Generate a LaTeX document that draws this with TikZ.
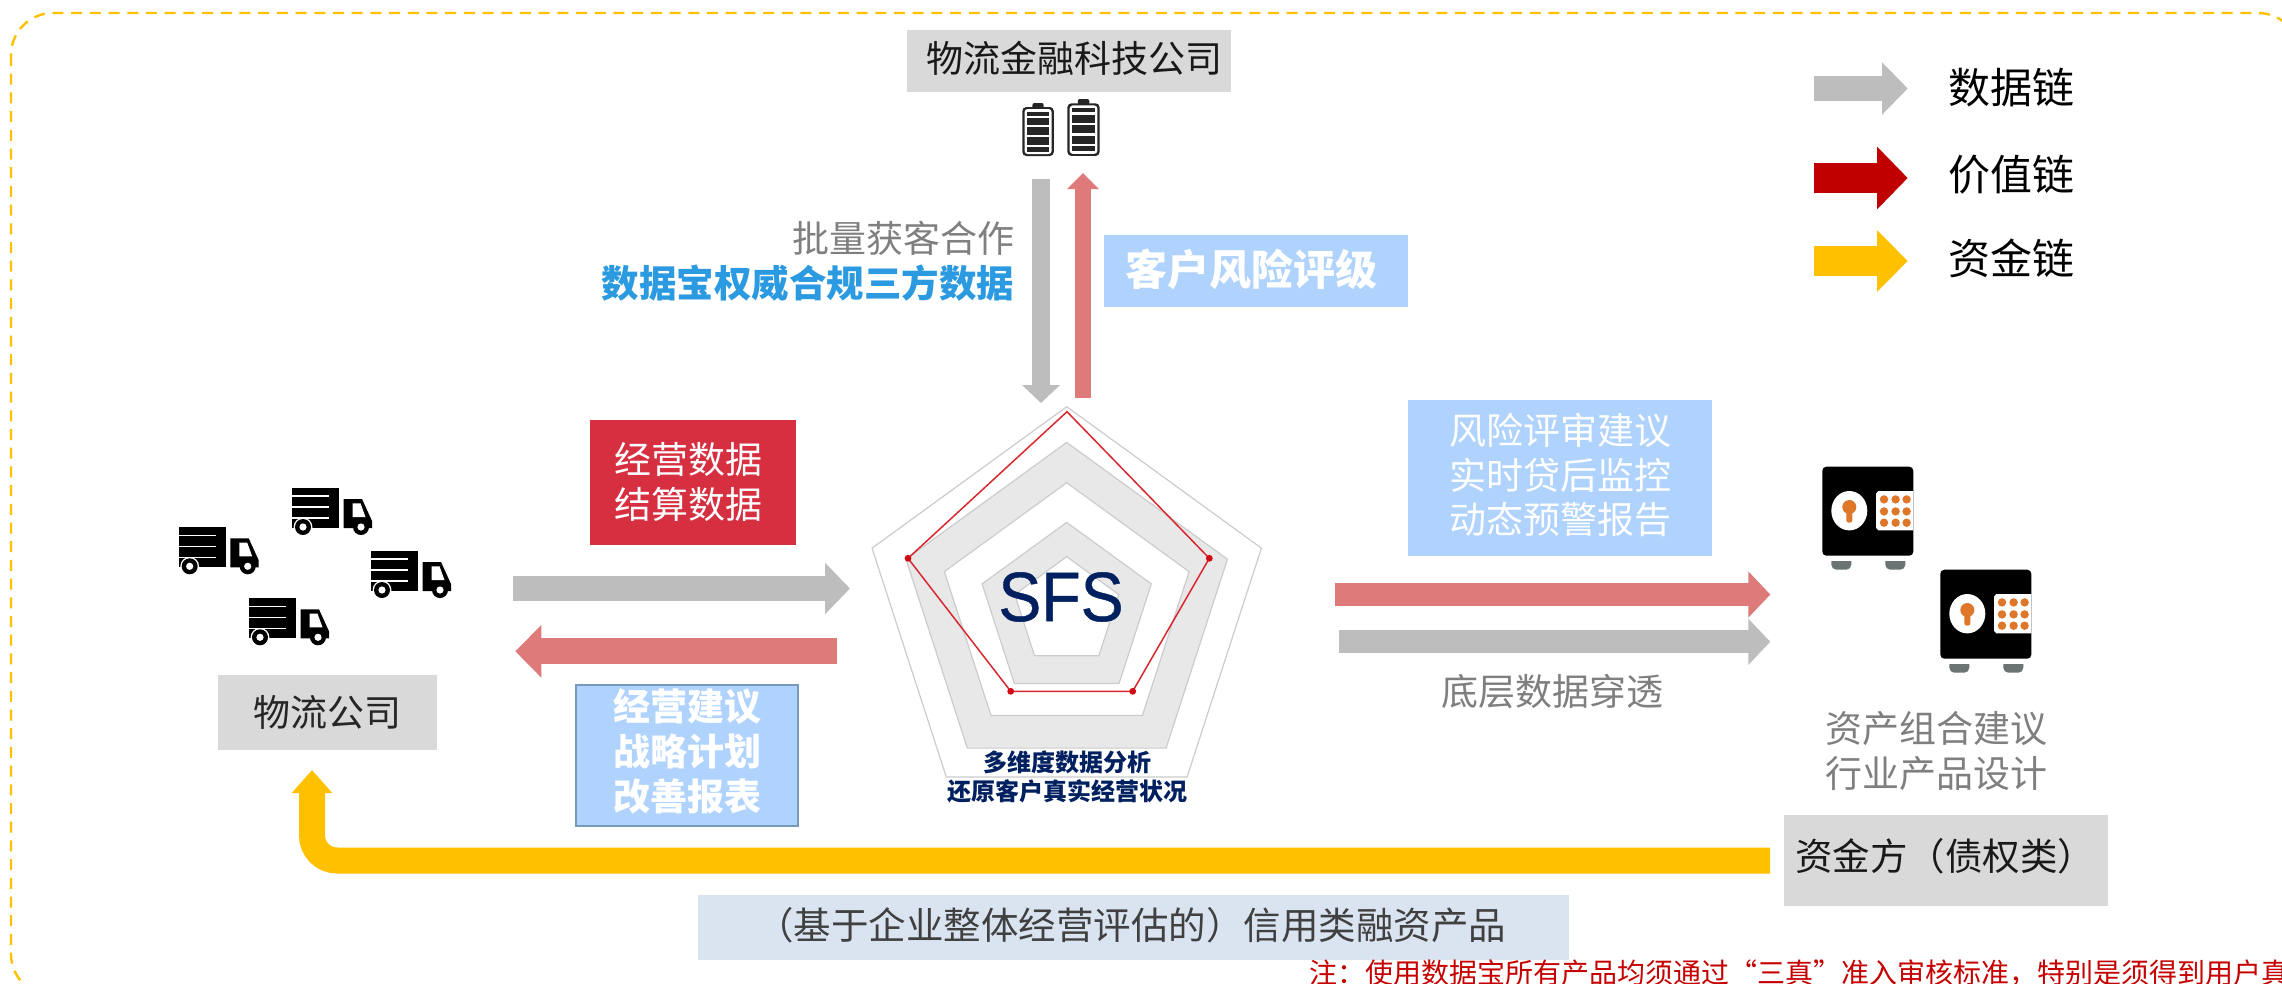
\documentclass[tikz,border=0pt]{standalone}
\usepackage{fontspec}
\usepackage{graphicx}
\setmainfont{Noto Sans CJK SC}
\newfontfamily\latinsf[FakeBold=0.6]{Liberation Sans}
\usetikzlibrary{arrows.meta}
\definecolor{cYellow}{HTML}{FFC000}
\definecolor{cGrey}{HTML}{BDBDBD}
\definecolor{cRose}{HTML}{DF7A7A}
\definecolor{cDeep}{HTML}{C00000}
\definecolor{cBlue}{HTML}{AFD3FD}
\definecolor{cBoxGrey}{HTML}{D9D9D9}
\definecolor{cRedBox}{HTML}{D63040}
\definecolor{cPale}{HTML}{DAE4F1}
\definecolor{cNavy}{HTML}{002060}
\definecolor{cOrange}{HTML}{DE7729}
\definecolor{cSky}{HTML}{2B9AE0}
\definecolor{cTxt}{HTML}{7F7F7F}
\definecolor{cRadar}{HTML}{D8282F}
\definecolor{cDot}{HTML}{D00A14}
\definecolor{cFoot}{HTML}{6B7373}
\definecolor{cEdge}{HTML}{7799BB}
\newcommand\fpx[2]{\fontsize{#1}{#2}\selectfont}
\tikzset{
  box/.style={inner sep=0pt,outer sep=0pt,draw=none,align=center},
  txt/.style={inner sep=0pt,outer sep=0pt,align=center},
  flow/.style n args={4}{draw=#1,line width=#2,-{Triangle[length=#3,width=#4]}},
  pentagrid/.style={draw=black!20,line width=1.2pt},
  truck/.pic={
    \fill[black] (0,0) rectangle (47,40);
    \draw[white,line width=1.6pt] (0,8)--(37,8) (0,19)--(37,19) (0,30)--(37,30);
    \fill[white] (11,39) circle (9.4);
    \fill[black] (11,39) circle (8);
    \fill[white] (11,39) circle (3.6);
    \fill[black] (51.7,11)--(70,11)--(80,33)--(80,40)--(51.7,40)--cycle;
    \fill[black] (69,39) circle (8);
    \fill[white] (69,39) circle (3.6);
    \fill[white] (60.7,15.3)--(68.5,15.3)--(73.5,29)--(60.7,29)--cycle;
  },
  safe/.pic={
    \fill[black,rounded corners=4] (0,0) rectangle (91,89);
    \fill[white] (27,44) ellipse [x radius=18,y radius=19.7];
    \fill[cOrange] (27,40.3) circle (7);
    \fill[cOrange,rounded corners=2.5] (24,40) rectangle (30,56);
    \fill[white] (91,24.3)--(56,24.3)--(53.7,27)--(53.7,61)--(56,63.7)--(91,63.7)--cycle;
    \foreach \dx in {61.7,73.3,84.3} \foreach \dy in {32.7,44.7,56}
      \fill[cOrange] (\dx,\dy) circle (4.2);
    \fill[cFoot] (9,94.3)--(29,94.3) [rounded corners=5]--(29,103)--(9,103) [sharp corners]--cycle;
    \fill[cFoot] (63,94.3)--(83,94.3) [rounded corners=5]--(83,103)--(63,103) [sharp corners]--cycle;
  },
  battery/.pic={
    \fill[black!85,rounded corners=2] (9,0) rectangle (19,6);
    \fill[black!85,rounded corners=4] (0,4) rectangle (28,53);
    \fill[white,rounded corners=3] (2,6) rectangle (26,51);
    \fill[black!85] (4,8.5) rectangle (24,12.5);
    \fill[black!85] (4,14.5) rectangle (24,22);
    \fill[black!85] (4,24) rectangle (24,32);
    \fill[black!85] (4,34) rectangle (24,41.5);
    \fill[black!85] (4,43.5) rectangle (24,48.5);
  },
}
\newcommand\pentagon[2]{\filldraw[pentagrid,fill=#1,shift={(1066.7,611.4)},scale=#2]
  (0,-1)--(.951,-.309)--(.588,.809)--(-.588,.809)--(-.951,-.309)--cycle;}
\begin{document}
\begin{tikzpicture}[x=1pt,y=-1pt]
\useasboundingbox (0,0) rectangle (2282,983);
\clip (0,0) rectangle (2282,983);
\fill[white] (0,0) rectangle (2282,983);
% frame
\draw[cYellow,line width=2.4pt,dash pattern=on 11pt off 7.7pt,rounded corners=42] (11,13) rectangle (2300,996);

% top company
\node[box,fill=cBoxGrey,minimum width=324,minimum height=62] (fintech) at (1069,61) {};
\node[txt,font=\fpx{37}{45},text=black!90] (fintechT) at (1074,58) {物流金融科技公司};
\pic[xscale=1.125] at (1022.3,103) {battery};
\pic[xscale=1.15,yscale=1.075] at (1067.4,99) {battery};

% vertical arrows
\coordinate (dnA) at (1041,179);
\coordinate (dnB) at (1041,403);
\coordinate (upA) at (1083,398);
\coordinate (upB) at (1083,173);
\draw[flow={cGrey}{18.8pt}{18pt}{37pt}] (dnA) -- (dnB);
\draw[flow={cRose}{16pt}{16pt}{31pt}] (upA) -- (upB);
\node[box,fill=cBlue,minimum width=304,minimum height=72] (rating) at (1256,271) {};
\node[txt,font=\fpx{42}{50}\bfseries,text=white] (ratingT) at (1251,269) {客户风险评级};
\node[txt,anchor=east,font=\fpx{37}{45},text=cTxt] (batch) at (1014,238) {批量获客合作};
\node[txt,anchor=east,font=\fpx{37.5}{45}\bfseries,text=cSky] (data3) at (1014,283) {数据宝权威合规三方数据};

% radar
\pentagon{white}{204.7}
\pentagon{black!9}{169}
\pentagon{white}{128.7}
\pentagon{black!9}{89}
\pentagon{white}{54.7}
\coordinate (r1) at (1067,411.7);
\coordinate (r2) at (1209.3,558.3);
\coordinate (r3) at (1132.7,691.3);
\coordinate (r4) at (1010.7,691.3);
\coordinate (r5) at (908,558.3);
\draw[cRadar,line width=1.5pt] (r1)--(r2)--(r3)--(r4)--(r5)--cycle;
\foreach \p in {r2,r3,r4,r5} \fill[cDot] (\p) circle (3.4);
\node[txt,font=\latinsf\fpx{70}{80},text=cNavy] (sfs) at (1061,597) {\scalebox{.92}[1]{SFS}};
\node[txt,font=\fpx{24}{29}\bfseries,text=cNavy] (multi) at (1067.5,777) {多维度数据分析\\还原客户真实经营状况};

% left side
\pic at (178.7,527.3) {truck};
\pic at (292,488) {truck};
\pic at (371,551) {truck};
\pic at (249,598.3) {truck};
\node[box,fill=cBoxGrey,minimum width=219,minimum height=75,font=\fpx{37}{45},text=black!85] (logco) at (327.5,712) {物流公司};
\node[box,fill=cRedBox,minimum width=206,minimum height=125] (opdata) at (693,482.5) {};
\node[txt,font=\fpx{37}{45},text=white] (opdataT) at (688.5,482) {经营数据\\结算数据};
\coordinate (lgA) at (512.7,588.5);
\coordinate (lgB) at (850,588.5);
\coordinate (lrA) at (837,651.3);
\coordinate (lrB) at (515.3,651.3);
\draw[flow={cGrey}{25pt}{25pt}{50pt}] (lgA) -- (lgB);
\draw[flow={cRose}{26pt}{26pt}{51pt}] (lrA) -- (lrB);
\node[box,fill=cBlue,draw=cEdge,line width=2pt,minimum width=222,minimum height=141] (advice) at (687,755) {};
\node[txt,font=\fpx{37}{45}\bfseries,text=white] (adviceT) at (687,751.5) {经营建议\\战略计划\\改善报表};

% right side
\node[box,fill=cBlue,minimum width=304,minimum height=156] (risk) at (1560,478) {};
\node[txt,font=\fpx{37}{44.7},text=white] (riskT) at (1560,475) {风险评审建议\\实时贷后监控\\动态预警报告};
\coordinate (rrA) at (1335,594.5);
\coordinate (rrB) at (1770.3,594.5);
\coordinate (rgA) at (1339,641.8);
\coordinate (rgB) at (1770.3,641.8);
\draw[flow={cRose}{22.5pt}{22pt}{45pt}] (rrA) -- (rrB);
\draw[flow={cGrey}{23pt}{22pt}{45pt}] (rgA) -- (rgB);
\node[txt,font=\fpx{37}{45},text=cTxt] (pierce) at (1552.5,691) {底层数据穿透};
\pic at (1822.3,466.7) {safe};
\pic at (1940.3,569.7) {safe};
\node[txt,font=\fpx{37}{45},text=cTxt] (port) at (1936,751) {资产组合建议\\行业产品设计};
\node[box,fill=cBoxGrey,minimum width=324,minimum height=91] (funder) at (1946,860.5) {};
\node[txt,font=\fpx{37.5}{45},text=black!90] (funderT) at (1945,856.7) {资金方（债权类）};

% funding arrow
\coordinate (yA) at (1770,860.5);
\coordinate (yC) at (312,860.5);
\coordinate (yB) at (312,770);
\draw[flow={cYellow}{26pt}{23pt}{39pt},rounded corners=25] (yA) -- (yC) -- (yB);
\node[box,fill=cPale,minimum width=871,minimum height=65] (credit) at (1133.5,927.5) {};
\node[txt,font=\fpx{37.5}{45},text=black!75] (creditT) at (1131,925) {（基于企业整体经营评估的）信用类融资产品};

% note
\node[txt,anchor=west,font=\fpx{28}{34},text=cDeep!90!red] (note) at (1309,973) {注：使用数据宝所有产品均须通过“三真”准入审核标准，特别是须得到用户真};

% legend
\coordinate (l1A) at (1814,88.5);
\coordinate (l1B) at (1907.7,88.5);
\coordinate (l2A) at (1814,178);
\coordinate (l2B) at (1907.7,178);
\coordinate (l3A) at (1814,261);
\coordinate (l3B) at (1907.7,261);
\draw[flow={cGrey}{25.7pt}{25.7pt}{51pt}] (l1A) -- (l1B);
\draw[flow={cDeep}{30pt}{30.7pt}{61pt}] (l2A) -- (l2B);
\draw[flow={cYellow}{30pt}{30.7pt}{60pt}] (l3A) -- (l3B);
\node[txt,anchor=west,font=\fpx{42}{50},text=black] (lg1) at (1948,88) {数据链};
\node[txt,anchor=west,font=\fpx{42}{50},text=black] (lg2) at (1948,175) {价值链};
\node[txt,anchor=west,font=\fpx{42}{50},text=black] (lg3) at (1948,258) {资金链};
\end{tikzpicture}
\end{document}
